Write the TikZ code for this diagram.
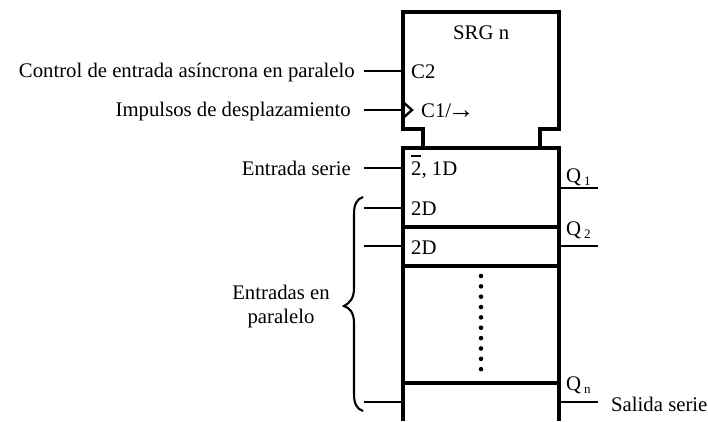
\documentclass[tikz,border=0pt]{standalone}
\usepackage{fontspec}
\setmainfont{Liberation Serif}
\begin{document}
\begin{tikzpicture}[x=1pt,y=-1pt,
  box/.style={line width=3.3pt,line join=miter},
  wire/.style={line width=2.2pt},
  rlabel/.style={anchor=base east,inner sep=0pt,font=\fontsize{20.75}{24}\selectfont},
  llabel/.style={anchor=base west,inner sep=0pt,font=\fontsize{20.75}{24}\selectfont},
  dotmark/.style={circle,fill=black,inner sep=0pt,minimum size=4.6pt}]
\useasboundingbox (0,0) rectangle (708,421);
% upper block
\draw[box] (423,148) -- (423,129) -- (403,129) -- (403,12) -- (559,12) -- (559,129) -- (540,129) -- (540,148);
% lower block
\draw[box] (403,421) -- (403,148) -- (559,148) -- (559,421);
\draw[box] (403,227) -- (559,227);
\draw[box] (403,266) -- (559,266);
\draw[box] (403,383) -- (559,383);
% clock mark
\draw[line width=2.4pt,line join=miter] (403,102) -- (412,110) -- (403,118);
% labels in the block
\node[llabel] (srg) at (453,39) {SRG n};
\node[llabel] (c2) at (411,78) {C2};
\node[llabel] (c1) at (421,117) {C1/\kern-3.5pt{\fontsize{27}{24}\selectfont\raisebox{-1.2pt}{→}}};
\node[llabel] (ser) at (411,175) {\rlap{\rule[18.5pt]{10pt}{1.2pt}}2, 1D};
\node[llabel] (d1) at (411,215) {2D};
\node[llabel] (d2) at (411,254) {2D};
% left labels
\node[rlabel] (tc) at (355,77) {Control de entrada asíncrona en paralelo};
\node[rlabel] (ti) at (351,116) {Impulsos de desplazamiento};
\node[rlabel] (te) at (351,175) {Entrada serie};
\node[font=\fontsize{20.75}{24}\selectfont,align=center,inner sep=0pt] (tp) at (281,307) {Entradas en\\paralelo};
% input wires
\foreach \n/\y in {a/71,b/110,c/168,d/208,e/246,f/402}{
  \coordinate (i\n) at (364,\y);
  \coordinate (j\n) at (403,\y);
  \draw[wire] (i\n) -- (j\n);
}
% brace
\coordinate (bt) at (363,197);
\coordinate (bm) at (344,306);
\coordinate (bb) at (363,411);
\draw[line width=2.1pt] (bt) .. controls (357,199) and (354,204) .. (354,214)
  -- (354,288) .. controls (354,298) and (350,303) .. (bm)
  .. controls (350,308) and (354,313) .. (354,323)
  -- (354,394) .. controls (354,404) and (357,409) .. (bb);
% output wires
\foreach \n/\y in {a/188,b/246,c/402}{
  \coordinate (o\n) at (559,\y);
  \coordinate (p\n) at (598,\y);
  \draw[wire] (o\n) -- (p\n);
}
\node[llabel] (q1) at (566,182) {Q\kern3pt\raisebox{-3pt}{\fontsize{13}{14}\selectfont 1}};
\node[llabel] (q2) at (566,235) {Q\kern3pt\raisebox{-3pt}{\fontsize{13}{14}\selectfont 2}};
\node[llabel] (qn) at (566,390) {Q\kern3pt\raisebox{-3pt}{\fontsize{13}{14}\selectfont n}};
\node[llabel] (ts) at (611,411) {Salida serie};
% dots
\foreach \i in {0,...,9}{
  \node[dotmark] (dot\i) at (481,{276+\i*10.35}) {};
}
\end{tikzpicture}
\end{document}
